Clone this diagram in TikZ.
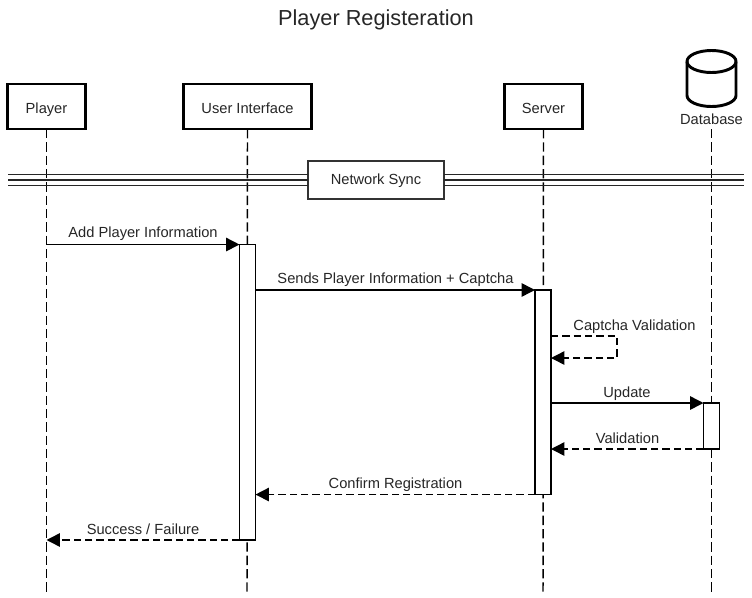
\documentclass[tikz,border=0pt]{standalone}
\usepackage{fontspec}
\setmainfont{Liberation Sans}
\usetikzlibrary{arrows.meta}
\tikzset{
  actor/.style={draw=black,line width=2.2pt,fill=white,minimum height=33.75pt,inner sep=0pt,outer sep=0pt},
  lifeline/.style={line width=1.1pt,dash pattern=on 7pt off 3pt},
  bar/.style={draw=black,line width=1.1pt,fill=white,minimum width=12pt,inner sep=0pt,outer sep=0pt},
  msg/.style={line width=1.1pt,-{Triangle[length=10pt,width=10pt]}},
  reply/.style={msg,dash pattern=on 5.5pt off 3pt},
  lbl/.style={anchor=base,inner sep=0pt,text=black!85,font=\fontsize{11}{13}\selectfont},
}
\begin{document}
\begin{tikzpicture}[x=.75pt,y=-.75pt]
\useasboundingbox (0,0) rectangle (752,597);
%% title
\node[anchor=base,inner sep=0pt,text=black!85,font=\fontsize{16.3}{19}\selectfont] (title) at (376,25) {Player Registeration};
%% the participants
\node[actor,minimum width=58.5pt] (player) at (46.5,106.5) {};
\node[actor,minimum width=96pt] (ui) at (247.5,106.5) {};
\node[actor,minimum width=59pt] (server) at (543.5,106.5) {};
\node[minimum width=36.75pt,minimum height=42pt,inner sep=0pt,outer sep=0pt] (db) at (711.5,78.5) {};
\draw[line width=2.2pt,fill=white] ([yshift=-8.25pt]db.north west)
  arc[start angle=180,end angle=0,x radius=18.375pt,y radius=8.25pt]
  -- ([yshift=8.25pt]db.south east)
  arc[start angle=0,end angle=-180,x radius=18.375pt,y radius=8.25pt] -- cycle;
\draw[line width=2.2pt] ([yshift=-8.25pt]db.north west)
  arc[start angle=180,end angle=360,x radius=18.375pt,y radius=8.25pt];
\node[lbl] (playertxt) at (46.5,113) {Player};
\node[lbl] (uitxt) at (247.5,113) {User Interface};
\node[lbl] (servertxt) at (543.5,113) {Server};
\node[lbl] (dbtxt) at (711.5,124) {Database};
%% ends of the lifelines
\coordinate (playerend) at (46.5,592);
\coordinate (uiend) at (247,592);
\coordinate (serverend) at (543,592);
\coordinate (dbtop) at (711.5,129);
\coordinate (dbend) at (711.5,592);
\draw[lifeline] (player.south) -- (playerend);
\draw[lifeline] (ui.south) -- (uiend);
\draw[lifeline] (server.south) -- (serverend);
\draw[lifeline] (dbtop) -- (dbend);
%% the sync divider
\node[draw=black!80,line width=1.1pt,fill=white,minimum width=102pt,minimum height=28.5pt,inner sep=0pt,outer sep=0pt] (sync) at (376,180) {};
\node[lbl] (synctxt) at (376,184) {Network Sync};
\coordinate (syncleft) at (8,180);
\coordinate (syncright) at (744,180);
\foreach \d in {-5.5,0,5.5}{
  \draw[line width=1.1pt,black!85] ([yshift=\d*.75pt]syncleft) -- ([yshift=\d*.75pt]sync.west);
  \draw[line width=1.1pt,black!85] ([yshift=\d*.75pt]sync.east) -- ([yshift=\d*.75pt]syncright);
}
%% activation bars
\node[bar,minimum height=221.6pt] (uibar) at (247.5,392.25) {};
\node[bar,minimum height=153.4pt] (serverbar) at (543,392.25) {};
\node[bar,minimum height=34.5pt] (dbbar) at (711.5,426) {};
%% messages
\draw[msg] (player.south |- uibar.north west) -- (uibar.north west);
\draw[msg] (uibar.east |- serverbar.north west) -- (serverbar.north west);
\coordinate (selfa) at (617,336);
\coordinate (selfb) at (617,358);
\draw[reply] (serverbar.east |- selfa) -- (selfa) -- (selfb) -- (serverbar.east |- selfb);
\draw[msg] (serverbar.east |- dbbar.north west) -- (dbbar.north west);
\draw[reply] (dbbar.south west) -- (serverbar.east |- dbbar.south west);
\draw[reply] (serverbar.south west) -- (uibar.east |- serverbar.south west);
\draw[reply] (uibar.south west) -- (player.south |- uibar.south west);
%% message labels
\node[lbl] (addtxt) at (143,237) {Add Player Information};
\node[lbl] (sendtxt) at (395.5,283.5) {Sends Player Information + Captcha};
\node[lbl] (captchatxt) at (634.5,330) {Captcha Validation};
\node[lbl] (updatetxt) at (627,397) {Update};
\node[lbl] (validtxt) at (627.5,443) {Validation};
\node[lbl] (confirmtxt) at (395.5,488) {Confirm Registration};
\node[lbl] (successtxt) at (143,534) {Success / Failure};
\end{tikzpicture}
\end{document}
